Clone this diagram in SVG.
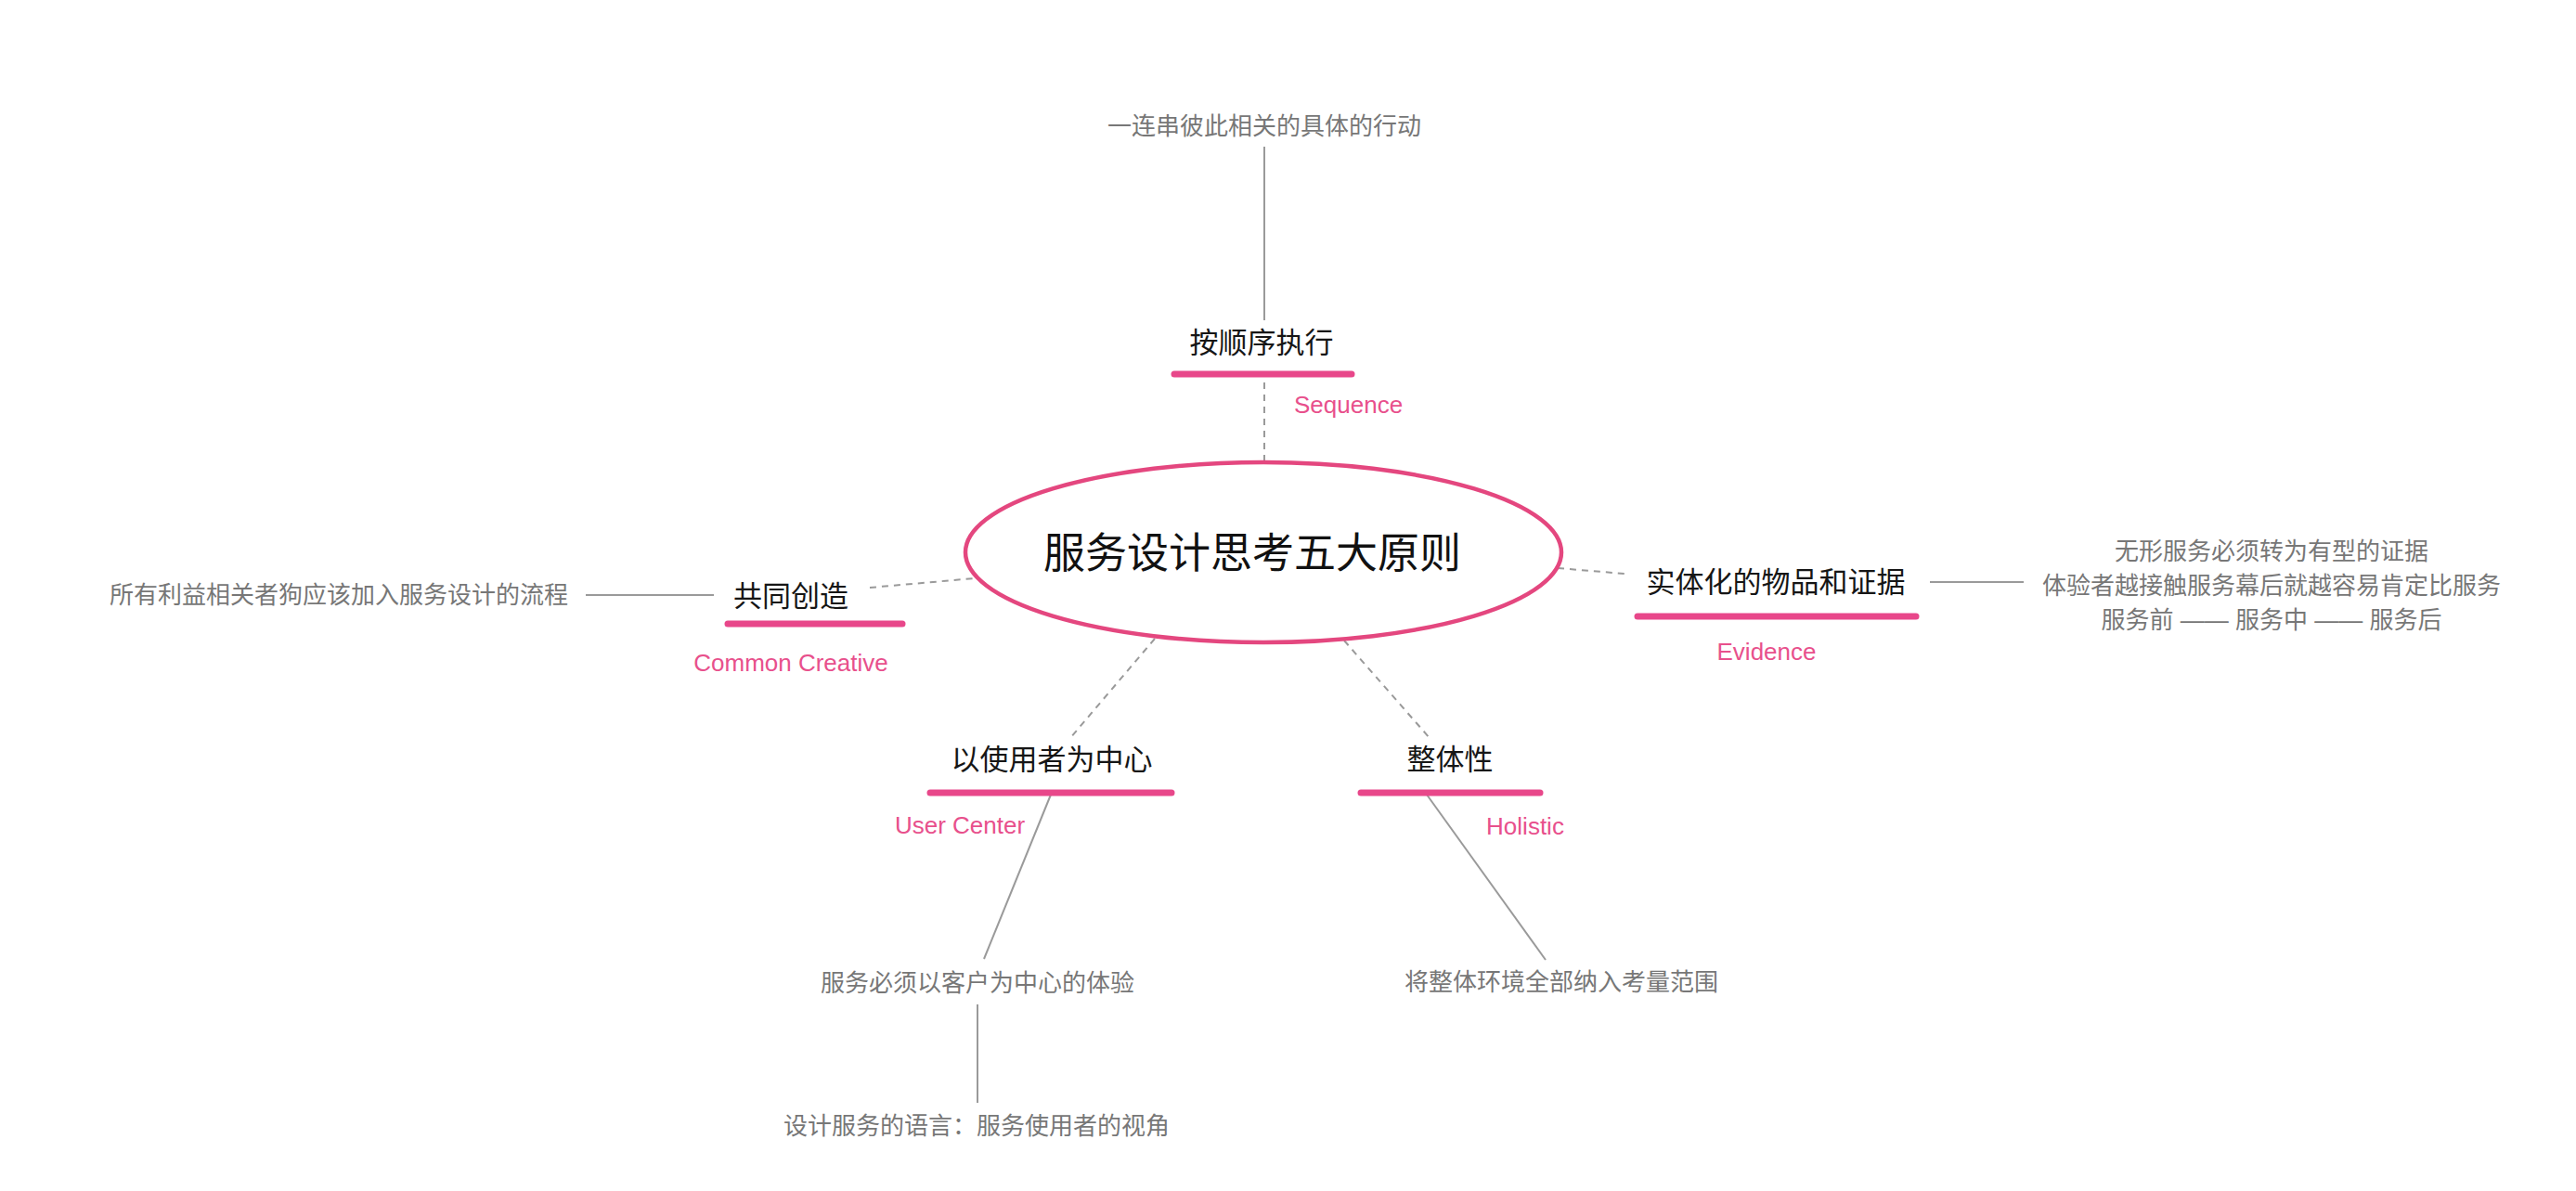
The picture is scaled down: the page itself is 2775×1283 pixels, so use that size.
<svg xmlns="http://www.w3.org/2000/svg" width="2775" height="1283" viewBox="0 0 2775 1283">
<style>
.bg{fill:#ffffff}
.t{font-family:"Liberation Sans","Noto Sans CJK SC",sans-serif;text-anchor:middle}
.title{font-size:45px;fill:#111111}
.lbl{font-size:31px;fill:#161616}
.en{font-size:26px;fill:#e8508c}
.note{font-size:26px;fill:#777777}
.bar{stroke:#e8478a;stroke-width:7;stroke-linecap:round;fill:none}
.solid{stroke:#9a9a9a;stroke-width:2;fill:none}
.dash{stroke:#9a9a9a;stroke-width:2;stroke-dasharray:7 6;fill:none}
</style>
<rect class="bg" x="0" y="0" width="2775" height="1283"/>
<g id="connectors">
<line class="solid" x1="1362" y1="158" x2="1362" y2="345"/>
<line class="dash" x1="1362" y1="412" x2="1362" y2="497"/>
<line class="solid" x1="631" y1="641" x2="769" y2="641"/>
<line class="dash" x1="937" y1="633" x2="1050" y2="623"/>
<line class="dash" x1="1678" y1="612" x2="1750" y2="618"/>
<line class="solid" x1="2079" y1="627" x2="2180" y2="627"/>
<line class="dash" x1="1244" y1="688" x2="1153" y2="795"/>
<line class="dash" x1="1448" y1="690" x2="1540" y2="795"/>
<line class="solid" x1="1132" y1="856" x2="1060" y2="1033"/>
<line class="solid" x1="1053" y1="1082" x2="1053" y2="1188"/>
<line class="solid" x1="1537" y1="856" x2="1665" y2="1034"/>
</g>
<g id="center">
<ellipse cx="1361" cy="595" rx="321" ry="97" fill="#ffffff" stroke="#e4477f" stroke-width="4.5"/>
<text class="t title" x="1349" y="612">服务设计思考五大原则</text>
</g>
<g id="sequence">
<text class="t lbl" x="1359" y="380">按顺序执行</text>
<line class="bar" x1="1265" y1="403" x2="1456" y2="403"/>
<text class="t en" x="1394" y="445" style="text-anchor:start">Sequence</text>
</g>
<g id="sequence-note">
<text class="t note" x="1362" y="145">一连串彼此相关的具体的行动</text>
</g>
<g id="cocreate">
<text class="t lbl" x="852" y="653">共同创造</text>
<line class="bar" x1="784" y1="672" x2="972" y2="672"/>
<text class="t en" x="852" y="723">Common Creative</text>
</g>
<g id="cocreate-note">
<text class="t note" x="612" y="650" style="text-anchor:end">所有利益相关者狗应该加入服务设计的流程</text>
</g>
<g id="evidence">
<text class="t lbl" x="1913" y="638">实体化的物品和证据</text>
<line class="bar" x1="1764" y1="664" x2="2064" y2="664"/>
<text class="t en" x="1903" y="711">Evidence</text>
</g>
<g id="evidence-note">
<text class="t note" x="2447" y="603">无形服务必须转为有型的证据</text>
<text class="t note" x="2447" y="640">体验者越接触服务幕后就越容易肯定比服务</text>
<text class="t note" x="2447" y="677">服务前 —— 服务中 —— 服务后</text>
</g>
<g id="usercenter">
<text class="t lbl" x="1133" y="829">以使用者为中心</text>
<line class="bar" x1="1002" y1="854" x2="1262" y2="854"/>
<text class="t en" x="1034" y="898">User Center</text>
</g>
<g id="usercenter-note1">
<text class="t note" x="1053" y="1068">服务必须以客户为中心的体验</text>
</g>
<g id="usercenter-note2">
<text class="t note" x="1052" y="1222">设计服务的语言：服务使用者的视角</text>
</g>
<g id="holistic">
<text class="t lbl" x="1562" y="829">整体性</text>
<line class="bar" x1="1466" y1="854" x2="1659" y2="854"/>
<text class="t en" x="1643" y="899">Holistic</text>
</g>
<g id="holistic-note">
<text class="t note" x="1682" y="1067">将整体环境全部纳入考量范围</text>
</g>
</svg>
